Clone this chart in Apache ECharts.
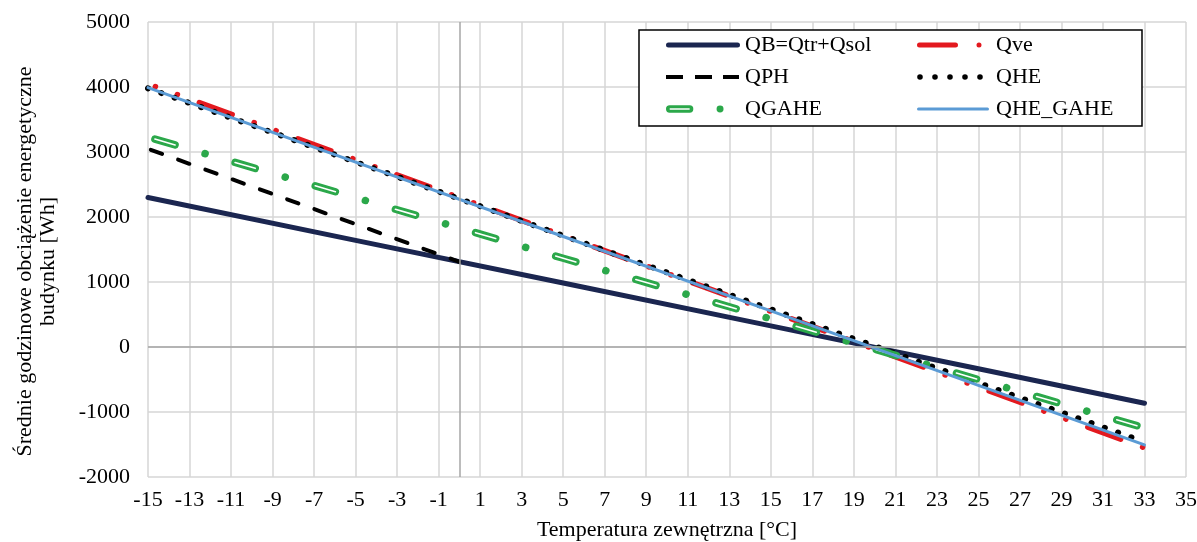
<!DOCTYPE html>
<html><head><meta charset="utf-8">
<script src="https://cdn.jsdelivr.net/npm/echarts@6/dist/echarts.min.js"></script>
<style>html,body{margin:0;padding:0;background:#fff}#c{width:1197px;height:542px}</style>
</head><body><div id="c"></div>
<script>
// ---- data ----
const temps   = [-15, -5, 5, 15, 25, 33];
const qb      = [2300, 1640, 985, 325, -335, -865];
const qve     = [4047, 2881, 1715, 549, -617, -1550];
const qphT    = [-15, -10, -5, 0];
const qph     = [3050, 2470, 1890, 1310];
const qhe     = [3980, 2847, 1713, 580, -553, -1460];
const qgahe   = [3230, 2298, 1365, 433, -500, -1245];
const qheGahe = [3990, 2845, 1700, 555, -590, -1506];
const xRange  = [-15, 35, 2];
const yRange  = [-2000, 5000, 1000];
const names   = ['QB=Qtr+Qsol', 'Qve', 'QPH', 'QHE', 'QGAHE', 'QHE_GAHE'];

const zip = (xs, ys) => xs.map((x, i) => [x, ys[i]]);
const FONT = 'Liberation Serif';
const C = {qb:'#1b2650', qve:'#e3191f', qph:'#000000', qhe:'#000000', qgahe:'#2ba84a', blue:'#5b9bd5'};

function ln(name, xs, ys, color, width, dash, offset, cap, z) {
  return {
    type:'line', name:name, data:zip(xs, ys), symbol:'none', smooth:false, z:z,
    itemStyle:{color:color},
    lineStyle:{color:color, width:width, type:dash, dashOffset:offset, cap:cap, join:'round'},
    emphasis:{disabled:true}, animation:false
  };
}

const H = 'M0,0L74,0L74,14L74,0Z ';
const icons = {
  'QB=Qtr+Qsol': 'path://' + H + 'M2.5,4.5H71.5A2.5,2.5,0,0,1,71.5,9.5H2.5A2.5,2.5,0,0,1,2.5,4.5Z',
  'Qve': 'path://' + H + 'M2.5,4.5H38.5A2.5,2.5,0,0,1,38.5,9.5H2.5A2.5,2.5,0,0,1,2.5,4.5Z M59.5,7A2.5,2.5,0,1,1,64.5,7A2.5,2.5,0,1,1,59.5,7Z',
  'QPH': 'path://' + H + 'M0,5H17V9H0Z M29,5H46V9H29Z M57,5H73V9H57Z',
  'QHE': 'path://' + H + 'M0.2,7A2.8,2.8,0,1,1,5.8,7A2.8,2.8,0,1,1,0.2,7Z M15.2,7A2.8,2.8,0,1,1,20.8,7A2.8,2.8,0,1,1,15.2,7Z M30.2,7A2.8,2.8,0,1,1,35.8,7A2.8,2.8,0,1,1,30.2,7Z M45.2,7A2.8,2.8,0,1,1,50.8,7A2.8,2.8,0,1,1,45.2,7Z M60.2,7A2.8,2.8,0,1,1,65.8,7A2.8,2.8,0,1,1,60.2,7Z',
  'QGAHE': 'path://' + H + 'M3.5,3.3H23.5A3.7,3.7,0,0,1,23.5,10.7H3.5A3.7,3.7,0,0,1,3.5,3.3Z M3.5,6.2V7.8H23.5V6.2Z M50.5,7A3.5,3.5,0,1,1,57.5,7A3.5,3.5,0,1,1,50.5,7Z',
  'QHE_GAHE': 'path://' + H + 'M1.5,5.5H70.5A1.5,1.5,0,0,1,70.5,8.5H1.5A1.5,1.5,0,0,1,1.5,5.5Z'
};

const legendData = names.map((n, i) => ({
  name:n, icon:icons[n],
  textStyle:{width: (i % 2 === 0) ? 162 : 120}
}));

const chart = echarts.init(document.getElementById('c'), null, {renderer:'canvas'});
chart.setOption({
  animation:false,
  backgroundColor:'#ffffff',
  grid:{left:148, right:11, top:22, bottom:65, containLabel:false, outerBoundsMode:'none'},
  legend:{
    data:legendData, left:639, top:30, width:600, orient:'horizontal',
    padding:[4, 26, 6, 27], itemGap:10, itemWidth:74, itemHeight:14,
    backgroundColor:'#ffffff', borderColor:'#000000', borderWidth:1.5,
    selectedMode:false, itemStyle:{borderWidth:0},
    textStyle:{fontFamily:FONT, fontSize:22, color:'#000', lineHeight:22}
  },
  xAxis:{
    type:'value', min:xRange[0], max:xRange[1], interval:xRange[2],
    name:'Temperatura zewnętrzna [°C]', nameLocation:'middle', nameGap:42,
    nameTextStyle:{fontFamily:FONT, fontSize:22, color:'#000'},
    axisLine:{show:false, onZero:false}, axisTick:{show:false},
    axisLabel:{fontFamily:FONT, fontSize:22, color:'#000', margin:12, formatter:(v) => String(v)},
    splitLine:{show:true, lineStyle:{color:'#d6d6d6', width:1.5}}
  },
  yAxis:{
    type:'value', min:yRange[0], max:yRange[1], interval:yRange[2],
    name:'Średnie godzinowe obciążenie energetyczne\nbudynku [Wh]', nameLocation:'middle', nameGap:88,
    nameTextStyle:{fontFamily:FONT, fontSize:22, color:'#000', lineHeight:23, padding:[0, 24, 0, 0]},
    axisLine:{show:false, onZero:false}, axisTick:{show:false},
    axisLabel:{fontFamily:FONT, fontSize:22, color:'#000', margin:18, formatter:(v) => String(v)},
    splitLine:{show:true, lineStyle:{color:'#d6d6d6', width:1.5}}
  },
  series:[
    {type:'line', name:'axes0', data:[], z:1, silent:true, animation:false,
     markLine:{silent:true, animation:false, symbol:['none','none'], label:{show:false},
       lineStyle:{color:'#a6a6a6', width:1.5, type:'solid'},
       emphasis:{disabled:true},
       data:[{xAxis:0}, {yAxis:0}]}},
    ln('QB=Qtr+Qsol', temps, qb, C.qb, 5, 'solid', 0, 'round', 2),
    ln('Qve', temps, qve, C.qve, 5.5, [35, 23.3, 0.1, 23.3, 0.1, 23.3], 50.5, 'round', 2),
    ln('QPH', qphT, qph, C.qph, 4, [12, 17], 26, 'round', 2),
    ln('QHE', temps, qhe, C.qhe, 6, [0.1, 14.0], 0, 'round', 2),
    ln('QGAHE', temps, qgahe, C.qgahe, 7.5, [21, 31.2, 0.1, 31.2], 76.3, 'round', 2),
    ln('QGAHE_inner', temps, qgahe, '#ffffff', 1.6, [21, 62.5], 76.3, 'round', 2),
    ln('QHE_GAHE', temps, qheGahe, C.blue, 3, 'solid', 0, 'round', 2)
  ]
});
</script>
</body></html>
